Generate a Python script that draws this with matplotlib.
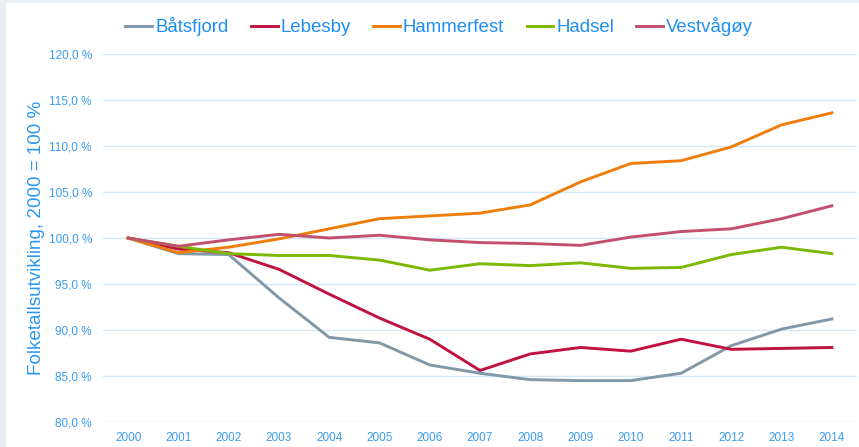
import matplotlib
matplotlib.use('Agg')
import matplotlib.pyplot as plt
from matplotlib.patches import Rectangle
from matplotlib.ticker import FuncFormatter

# Folketallsutvikling, indeks 2000 = 100 %
years = list(range(2000, 2015))

batsfjord = [100.0, 98.3, 98.2, 93.5, 89.2, 88.6, 86.2, 85.3, 84.6, 84.5, 84.5, 85.3, 88.3, 90.1, 91.2]
lebesby = [100.0, 98.8, 98.4, 96.6, 93.9, 91.3, 89.0, 85.6, 87.4, 88.1, 87.7, 89.0, 87.9, 88.0, 88.1]
hammerfest = [100.0, 98.4, 99.0, 99.9, 101.0, 102.1, 102.4, 102.7, 103.6, 106.1, 108.1, 108.4, 109.9, 112.3, 113.6]
hadsel = [100.0, 99.1, 98.3, 98.1, 98.1, 97.6, 96.5, 97.2, 97.0, 97.3, 96.7, 96.8, 98.2, 99.0, 98.3]
vestvagoy = [100.0, 99.1, 99.8, 100.4, 100.0, 100.3, 99.8, 99.5, 99.4, 99.2, 100.1, 100.7, 101.0, 102.1, 103.5]

series = [
    ("Båtsfjord", batsfjord, "#8098a7"),
    ("Lebesby", lebesby, "#c0123e"),
    ("Hammerfest", hammerfest, "#ee7d0c"),
    ("Hadsel", hadsel, "#7cb800"),
    ("Vestvågøy", vestvagoy, "#c24f6e"),
]

plt.rcParams['font.family'] = ['Liberation Sans', 'DejaVu Sans']

fig = plt.figure(figsize=(8.59, 4.47), dpi=100)
fig.patch.set_facecolor('white')

# light border strips on the left and top edge
fig.patches.append(Rectangle((0, 0), 6 / 859, 1, transform=fig.transFigure,
                             facecolor='#e9eef2', edgecolor='none', zorder=0))
fig.patches.append(Rectangle((0, 1 - 3 / 447), 1, 3 / 447, transform=fig.transFigure,
                             facecolor='#e9eef2', edgecolor='none', zorder=0))

ax = fig.add_axes([103 / 859, 1 - 422 / 447, (857 - 103) / 859, (422 - 54) / 447])

for name, vals, col in series:
    ax.plot(years, vals, color=col, lw=2.1, label=name, solid_joinstyle='round')

ax.set_xlim(1999.5, 2014.5)
ax.set_ylim(80, 120)
ax.set_yticks(range(80, 121, 5))
ax.set_xticks(years)
ax.yaxis.set_major_formatter(FuncFormatter(lambda v, p: f"{v:.1f}".replace('.', ',') + " %"))

ax.grid(axis='y', color='#d3e8f8', lw=1)
ax.set_axisbelow(True)
for s in ax.spines.values():
    s.set_visible(False)
ax.tick_params(length=0, colors='#3a9cf0', labelsize=8.5)
ax.tick_params(axis='y', pad=8)
ax.tick_params(axis='x', pad=7)

ax.set_ylabel("Folketallsutvikling, 2000 = 100 %", color='#2b97ef', fontsize=13.6)
ax.yaxis.set_label_coords(-0.077, 0.5)

leg = ax.legend(loc='center', bbox_to_anchor=(0.446, 1.074), ncol=5, frameon=False,
                fontsize=13.4, handlelength=1.45, handletextpad=0.15, columnspacing=1.2,
                borderaxespad=0, borderpad=0)
for t in leg.get_texts():
    t.set_color('#1e8ff5')

fig.savefig('out.png', dpi=100)
